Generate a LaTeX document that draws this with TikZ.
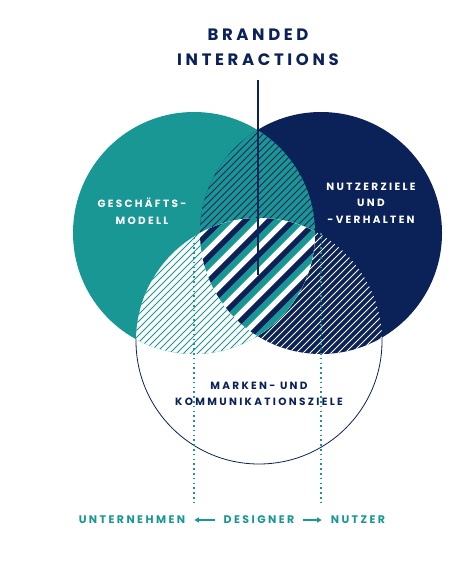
\documentclass[tikz,border=0pt]{standalone}
\usepackage{fontspec}
\setmainfont{Poppins}
\newfontfamily\spaced[LetterSpace=22]{Poppins}
\usetikzlibrary{arrows.meta}

\definecolor{brandteal}{RGB}{25,151,149}
\definecolor{brandnavy}{RGB}{11,34,89}

\tikzset{
	titletext/.style={font=\spaced\bfseries\fontsize{16.5}{25}\selectfont, text=brandnavy, align=center, inner sep=0pt},
	circletext/.style={font=\spaced\bfseries\fontsize{10.5}{16.5}\selectfont, align=center, inner sep=0pt},
	roletext/.style={font=\spaced\bfseries\fontsize{11}{12}\selectfont, text=brandteal, inner sep=0pt},
	hatch/.style={line width=0.9pt},
	stripe/.style={line width=5.7pt},
	guide/.style={brandteal, line width=1.6pt, dash pattern=on 1.6pt off 3.2pt},
	stem/.style={brandnavy, line width=2pt},
	arrow/.style={brandteal, line width=1.8pt, -{Triangle[length=4.5pt,width=5pt]}, shorten >=9pt, shorten <=8pt}
}

\begin{document}
\begin{tikzpicture}[x=1pt,y=-1pt]
	\useasboundingbox (0,0) rectangle (456,564);
	%centres
		\coordinate (lc) at (194,233);
		\coordinate (rc) at (321,233);
		\coordinate (bc) at (259,341);
		\coordinate (core) at (258,275);
	%lower circle outline + solid circles
		\draw[brandnavy, line width=0.8pt] (bc) circle (123);
		\fill[brandteal] (lc) circle (121);
		\fill[brandnavy] (rc) circle (121);
	%left + right
		\begin{scope}
			\clip (lc) circle (121);
			\clip (rc) circle (121);
			\fill[brandteal] (0,0) rectangle (456,564);
			\foreach \c in {250,257,...,900}
				\draw[hatch, brandnavy] (\c,0) -- (\c-564,564);
		\end{scope}
	%left + lower
		\begin{scope}
			\clip (lc) circle (121);
			\clip (bc) circle (123);
			\fill[white] (0,0) rectangle (456,564);
			\foreach \c in {250,257,...,900}
				\draw[hatch, brandteal] (\c,0) -- (\c-564,564);
		\end{scope}
	%right + lower
		\begin{scope}
			\clip (rc) circle (121);
			\clip (bc) circle (123);
			\foreach \c in {250,257,...,900}
				\draw[hatch, white] (\c,0) -- (\c-564,564);
		\end{scope}
	%all three
		\begin{scope}
			\clip (lc) circle (121);
			\clip (rc) circle (121);
			\clip (bc) circle (123);
			\fill[white] (0,0) rectangle (456,564);
			\foreach \c in {250,274,...,900}{
				\draw[stripe, brandnavy] (\c,0) -- (\c-564,564);
				\draw[stripe, brandteal] (\c+8,0) -- (\c-556,564);
			}
		\end{scope}
	%labels
		\node[titletext] (title) at (258,47) {BRANDED\\INTERACTIONS};
		\node[circletext, text=white] (business) at (142,211) {GESCHÄFTS-\\MODELL};
		\node[circletext, text=white] (goals) at (371,203) {NUTZERZIELE\\UND\\-VERHALTEN};
		\node[circletext, text=brandnavy] (brand) at (259,394) {MARKEN- UND\\KOMMUNIKATIONSZIELE};
		\node[roletext] (firm) at (132,520) {UNTERNEHMEN};
		\node[roletext] (designer) at (259,520) {DESIGNER};
		\node[roletext] (user) at (358,520) {NUTZER};
	%lines
		\draw[stem] ([yshift=-14pt]title.south) -- (core);
		\draw[guide] (lc) -- (lc |- 0,505);
		\draw[guide] (rc) -- (rc |- 0,505);
		\draw[arrow] (designer.west) -- (firm.east);
		\draw[arrow] (designer.east) -- (user.west);
\end{tikzpicture}
\end{document}
